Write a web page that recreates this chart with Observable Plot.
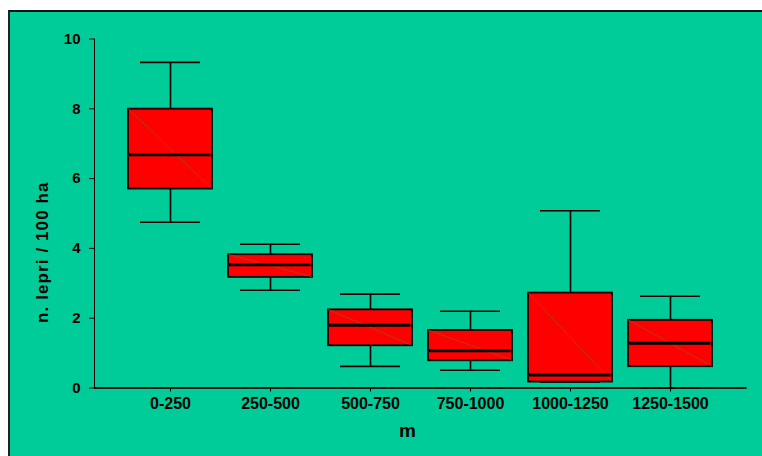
<!DOCTYPE html>
<html>
<head>
<meta charset="utf-8">
<script src="https://cdn.jsdelivr.net/npm/d3@7"></script>
<script src="https://cdn.jsdelivr.net/npm/@observablehq/plot@0.6"></script>
<style>
  html, body { margin: 0; padding: 0; background: #ffffff; width: 762px; height: 456px; overflow: hidden; }
  #bg { position: absolute; left: 8px; top: 10px; width: 760px; height: 450px;
        background: rgb(0, 204, 153); border-top: 2px solid #111; border-left: 2px solid #222; }
  #chart { position: absolute; left: 0; top: 0; }
</style>
</head>
<body>
<div id="bg"></div>
<div id="chart"></div>
<script>
const categories = ["0-250", "250-500", "500-750", "750-1000", "1000-1250", "1250-1500"];
const whiskerLow  = [4.75, 2.80, 0.62, 0.51, 0.17, 0.00];
const q1          = [5.70, 3.17, 1.21, 0.78, 0.17, 0.61];
const median      = [6.68, 3.53, 1.80, 1.07, 0.37, 1.28];
const q3          = [7.99, 3.82, 2.24, 1.65, 2.72, 1.94];
const whiskerHigh = [9.33, 4.12, 2.69, 2.20, 5.08, 2.63];
const yTicks = [0, 2, 4, 6, 8, 10];
const yTitle = "n. lepri / 100 ha";
const xTitle = "m";

const data = categories.map((c, i) => ({
  cat: c, lo: whiskerLow[i], q1: q1[i], med: median[i], q3: q3[i], hi: whiskerHigh[i]
}));

const diagonals = (index, scales, values, dimensions) => {
  const g = d3.create("svg:g");
  const x = scales.x, y = scales.y;
  const bw = typeof x.bandwidth === "function" ? x.bandwidth() : x.bandwidth;
  for (const d of data) {
    g.append("line")
      .attr("x1", x(d.cat)).attr("y1", y(d.q3))
      .attr("x2", x(d.cat) + bw).attr("y2", y(d.q1))
      .attr("stroke", "#8f5a2a").attr("stroke-width", 0.8).attr("stroke-opacity", 0.8);
  }
  return g.node();
};

const chart = Plot.plot({
  width: 762,
  height: 456,
  marginLeft: 94,
  marginRight: 16,
  marginTop: 38.5,
  marginBottom: 68.5,
  style: {background: "transparent", fontFamily: "Arial, 'Liberation Sans', sans-serif", fontSize: "16px", fontWeight: "bold", color: "#000"},
  x: {type: "band", domain: categories, paddingInner: 0.16, paddingOuter: 0.314, label: null, tickSize: 4, tickPadding: 6, line: true},
  y: {domain: [0, 10], ticks: yTicks, label: null, tickSize: 5, tickPadding: 9, line: true},
  marks: [
    Plot.ruleX(data, {x: "cat", y1: "q3", y2: "hi", stroke: "#000", strokeWidth: 1.6}),
    Plot.ruleX(data, {x: "cat", y1: "lo", y2: "q1", stroke: "#000", strokeWidth: 1.6}),
    Plot.tickY(data, {x: "cat", y: "hi", stroke: "#000", strokeWidth: 1.6, insetLeft: 12, insetRight: 12}),
    Plot.tickY(data, {x: "cat", y: "lo", stroke: "#000", strokeWidth: 1.6, insetLeft: 12, insetRight: 12}),
    Plot.barY(data, {x: "cat", y1: "q1", y2: "q3", fill: "#ff0000", stroke: "#000", strokeWidth: 1.8}),
    diagonals,
    Plot.tickY(data, {x: "cat", y: "med", stroke: "#000", strokeWidth: 3, insetRight: 1.5}),
    Plot.ruleY([0], {stroke: "#000", strokeWidth: 1.5}),
    Plot.text([yTitle], {frameAnchor: "left", textAnchor: "middle", rotate: -90, dx: -52, dy: 38.7, fontSize: 17, fontWeight: "bold", fill: "#000"}),
    Plot.text([xTitle], {frameAnchor: "bottom", textAnchor: "middle", dx: -13, dy: 48.5, fontSize: 19, fontWeight: "bold", fill: "#000"})
  ]
});
document.getElementById("chart").appendChild(chart);
d3.select(chart).selectAll("text")
  .filter(function() { return this.textContent === yTitle; })
  .style("letter-spacing", "1.1px");
d3.select(chart).selectAll('g[aria-label="y-axis tick label"]').style("font-size", "15px");
</script>
</body>
</html>
